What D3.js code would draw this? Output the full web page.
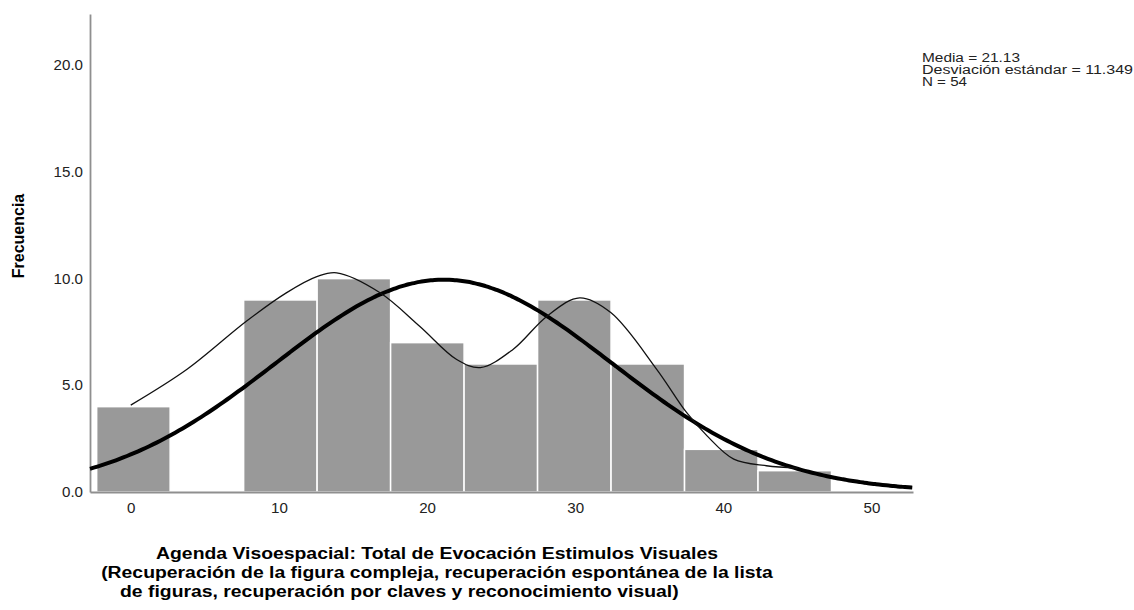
<!DOCTYPE html>
<html>
<head>
<meta charset="utf-8">
<script src="https://cdn.jsdelivr.net/npm/d3@7"></script>
<style>
  body { margin: 0; background: #fff; }
  svg { display: block; font-family: "Liberation Sans", Arial, sans-serif; }
</style>
</head>
<body>
<div id="chart"></div>
<script>
// histogram data
const binEdges = [-2.3, 2.66, 7.62, 12.58, 17.54, 22.5, 27.46, 32.42, 37.38, 42.34, 47.3];
const counts = [4, 0, 9, 10, 7, 6, 9, 6, 2, 1];

// summary stats shown in the corner
const mean = 21.13;
const sd = 11.349;
const n = 54;
const normalPeak = 9.95; // height of the fitted normal curve at the mean

// thin smoothed line through the bars
const smoothX = [0, 3.8, 7.8, 10.5, 12.6, 13.9, 16.8, 19.5, 22.0, 23.6, 25.8, 28.1, 30.3, 32.4, 35.5, 37.5, 38.9, 40.7, 42.9, 45.0];
const smoothY = [4.07, 5.75, 8.0, 9.33, 10.1, 10.27, 9.35, 7.77, 6.21, 5.83, 6.68, 8.24, 9.10, 8.41, 5.75, 3.74, 2.63, 1.54, 1.23, 1.12];

const xTicks = [0, 10, 20, 30, 40, 50];
const yTicks = [0, 5, 10, 15, 20];

const statLines = ['Media = 21.13', 'Desviación estándar = 11.349', 'N = ' + n];
const statWidths = [98, 211, 45];
const xTitle = [
    'Agenda Visoespacial: Total de Evocación Estimulos Visuales',
    '(Recuperación de la figura compleja, recuperación espontánea de la lista',
    'de figuras, recuperación por claves y reconocimiento visual)'
];
const yTitle = 'Frecuencia';

const width = 1134, height = 610;
const margin = { left: 90, right: 221, top: 14, bottom: 118 };

const svg = d3.select('#chart').append('svg')
    .attr('width', width)
    .attr('height', height);

const x = d3.scaleLinear()
    .domain([-2.75, 52.8])
    .range([margin.left, width - margin.right]);

const y = d3.scaleLinear()
    .domain([0, 22.4])
    .range([height - margin.bottom, margin.top]);

// Bars
const bins = counts.map((c, i) => ({ x0: binEdges[i], x1: binEdges[i + 1], count: c }));

svg.append('g')
    .selectAll('rect')
    .data(bins.filter(d => d.count > 0))
    .join('rect')
    .attr('x', d => x(d.x0))
    .attr('y', d => y(d.count))
    .attr('width', d => x(d.x1) - x(d.x0))
    .attr('height', d => y(0) - y(d.count))
    .attr('fill', '#999999')
    .attr('stroke', '#fff')
    .attr('stroke-width', 1.5);

// Axes
const xAxis = svg.append('g')
    .attr('transform', `translate(0,${y(0)})`)
    .call(d3.axisBottom(x).tickValues(xTicks).tickFormat(d3.format('d')).tickSize(0).tickPadding(11));

const yAxis = svg.append('g')
    .attr('transform', `translate(${margin.left},0)`)
    .call(d3.axisLeft(y).tickValues(yTicks).tickFormat(d3.format('.1f')).tickSize(0).tickPadding(8));

[xAxis, yAxis].forEach(a => {
    a.select('.domain').attr('stroke', '#8f8f8f').attr('stroke-width', 1.8);
    a.selectAll('text').attr('fill', '#222').attr('font-size', 14)
        .attr('font-family', '"Liberation Sans", Arial, sans-serif');
});
// the original labels are a touch wider than Arial
xAxis.selectAll('text').attr('transform', 'scale(1.08,1)');
yAxis.selectAll('text').attr('x', 0).attr('transform', 'translate(-7,0) scale(1.08,1)');

// Normal curve
const normPts = d3.range(-2.75, 52.81, 0.25).map(v => [v, normalPeak * Math.exp(-0.5 * ((v - mean) / sd) ** 2)]);

svg.append('path')
    .datum(normPts)
    .attr('fill', 'none')
    .attr('stroke', '#000')
    .attr('stroke-width', 4)
    .attr('d', d3.line().x(d => x(d[0])).y(d => y(d[1])).curve(d3.curveBasis));

// Smoothed line
svg.append('path')
    .datum(smoothX.map((v, i) => [v, smoothY[i]]))
    .attr('fill', 'none')
    .attr('stroke', '#111')
    .attr('stroke-width', 1.3)
    .attr('d', d3.line().x(d => x(d[0])).y(d => y(d[1])).curve(d3.curveCatmullRom));

// Stats box
svg.append('g')
    .attr('font-size', 12)
    .attr('fill', '#222')
    .selectAll('text')
    .data(statLines)
    .join('text')
    .attr('x', 922)
    .attr('y', (d, i) => 62 + i * 11.8)
    .attr('textLength', (d, i) => statWidths[i])
    .attr('lengthAdjust', 'spacingAndGlyphs')
    .text(d => d);

// Axis titles
svg.append('text')
    .attr('transform', 'translate(24,236) rotate(-90)')
    .attr('text-anchor', 'middle')
    .attr('font-size', 16)
    .attr('font-weight', 'bold')
    .text(yTitle);

const titleScale = 1.14, cx = 437;
const titleG = svg.append('g')
    .attr('font-size', 17)
    .attr('font-weight', 'bold')
    .attr('fill', '#000')
    .attr('transform', `translate(${cx},0) scale(${titleScale},1) translate(${-cx},0)`);
titleG.append('text').attr('x', cx).attr('y', 559).attr('text-anchor', 'middle').text(xTitle[0]);
titleG.append('text').attr('x', cx).attr('y', 578).attr('text-anchor', 'middle').text(xTitle[1]);
titleG.append('text').attr('x', cx - (cx - 120) / titleScale).attr('y', 597).attr('text-anchor', 'start').text(xTitle[2]);
</script>
</body>
</html>
